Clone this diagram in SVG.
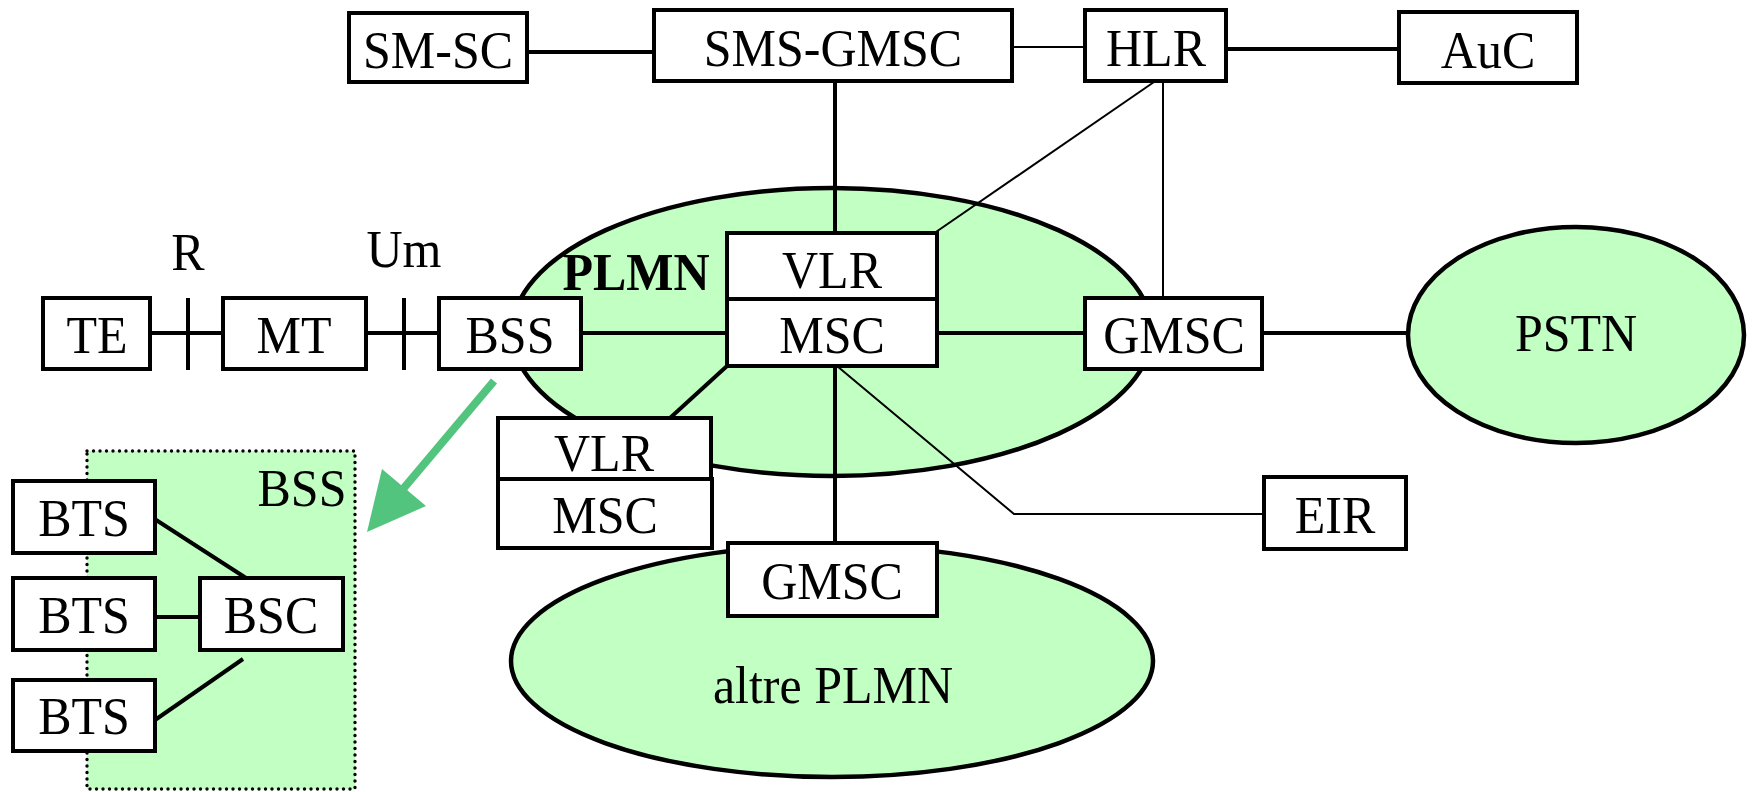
<svg xmlns="http://www.w3.org/2000/svg" width="1754" height="792" viewBox="0 0 1754 792">
<style>
.box{fill:#ffffff;stroke:#000;stroke-width:4}
.cloud{fill:#c2ffc2;stroke:#000;stroke-width:4.5}
.thick{stroke:#000;stroke-width:4;fill:none}
.thin{stroke:#000;stroke-width:2;fill:none}
text{font-family:"Liberation Serif","Times New Roman",serif;font-size:50px;fill:#000;text-anchor:middle}
.bold{font-weight:bold}
</style>
<rect width="1754" height="792" fill="#ffffff"/>
<g id="plmn-cloud"><ellipse class="cloud" cx="832" cy="332" rx="320" ry="144"/><text class="bold" transform="translate(636,290) scale(1,1.04)">PLMN</text></g>
<g id="altre-plmn"><ellipse class="cloud" cx="832" cy="661" rx="321" ry="116"/><text transform="translate(833,703) scale(1,1.06)">altre PLMN</text></g>
<g id="pstn"><ellipse class="cloud" cx="1576" cy="335" rx="168" ry="108"/><text transform="translate(1576,351) scale(1,1.06)">PSTN</text></g>
<g id="bss-detail"><rect x="87" y="451" width="268" height="338" fill="#c2ffc2" stroke="#000" stroke-width="3.4" stroke-dasharray="0 6.5" stroke-linecap="round"/><text transform="translate(302,506) scale(1,1.06)">BSS</text></g>
<g id="connectors">
<line class="thick" x1="527" y1="52" x2="654" y2="52"/>
<line class="thin" x1="1012" y1="47" x2="1085" y2="47"/>
<line class="thick" x1="1226" y1="49" x2="1399" y2="49"/>
<line class="thick" x1="835" y1="81" x2="835" y2="233"/>
<line class="thin" x1="1154" y1="82" x2="933" y2="234"/>
<line class="thin" x1="1163" y1="81" x2="1163" y2="303"/>
<line class="thick" x1="150" y1="333" x2="223" y2="333"/>
<line class="thick" x1="366" y1="333" x2="439" y2="333"/>
<line class="thick" x1="188" y1="298" x2="188" y2="370"/>
<line class="thick" x1="404" y1="298" x2="404" y2="370"/>
<line class="thick" x1="581" y1="333" x2="727" y2="333"/>
<line class="thick" x1="937" y1="333" x2="1085" y2="333"/>
<line class="thick" x1="1262" y1="333" x2="1409" y2="333"/>
<line class="thick" x1="727" y1="366" x2="670" y2="418"/>
<line class="thick" x1="835" y1="366" x2="835" y2="548"/>
<polyline class="thin" points="837,366 1014,514 1264,514"/>
<line class="thick" x1="153" y1="518" x2="246" y2="578"/>
<line class="thick" x1="150" y1="617" x2="200" y2="617"/>
<line class="thick" x1="155" y1="720" x2="243" y2="659"/>
<line stroke="#52c47e" stroke-width="8" x1="494" y1="381" x2="398" y2="495"/>
<polygon fill="#52c47e" points="367,532 382,469 426,506"/>
</g>
<g id="sm-sc"><rect class="box" x="349" y="13" width="178" height="69"/><text transform="translate(438,68) scale(1,1.06)">SM-SC</text></g>
<g id="sms-gmsc"><rect class="box" x="654" y="10" width="358" height="71"/><text transform="translate(833,66) scale(1,1.06)">SMS-GMSC</text></g>
<g id="hlr"><rect class="box" x="1085" y="10" width="141" height="71"/><text transform="translate(1156,66) scale(1,1.06)">HLR</text></g>
<g id="auc"><rect class="box" x="1399" y="12" width="178" height="71"/><text transform="translate(1488,68) scale(1,1.06)">AuC</text></g>
<g id="te"><rect class="box" x="43" y="298" width="107" height="71"/><text transform="translate(97,353) scale(1,1.06)">TE</text></g>
<g id="r-label"><text transform="translate(188,270) scale(1,1.06)">R</text></g>
<g id="um-label"><text transform="translate(404,267) scale(1,1.06)">Um</text></g>
<g id="mt"><rect class="box" x="223" y="298" width="143" height="71"/><text transform="translate(294,353) scale(1,1.06)">MT</text></g>
<g id="bss"><rect class="box" x="439" y="298" width="142" height="71"/><text transform="translate(510,353) scale(1,1.06)">BSS</text></g>
<g id="vlr-up"><rect class="box" x="727" y="233" width="210" height="66"/><text transform="translate(832,288) scale(1,1.06)">VLR</text></g>
<g id="msc-up"><rect class="box" x="727" y="299" width="210" height="67"/><text transform="translate(832,353) scale(1,1.06)">MSC</text></g>
<g id="gmsc-right"><rect class="box" x="1085" y="298" width="177" height="71"/><text transform="translate(1174,353) scale(1,1.06)">GMSC</text></g>
<g id="vlr-low"><rect class="box" x="498" y="418" width="213" height="61"/><text transform="translate(604,471) scale(1,1.06)">VLR</text></g>
<g id="msc-low"><rect class="box" x="498" y="479" width="214" height="69"/><text transform="translate(605,533) scale(1,1.06)">MSC</text></g>
<g id="gmsc-low"><rect class="box" x="728" y="543" width="209" height="73"/><text transform="translate(832,599) scale(1,1.06)">GMSC</text></g>
<g id="eir"><rect class="box" x="1264" y="477" width="142" height="72"/><text transform="translate(1335,533) scale(1,1.06)">EIR</text></g>
<g id="bts1"><rect class="box" x="13" y="481" width="142" height="72"/><text transform="translate(84,536) scale(1,1.06)">BTS</text></g>
<g id="bts2"><rect class="box" x="13" y="578" width="142" height="72"/><text transform="translate(84,633) scale(1,1.06)">BTS</text></g>
<g id="bts3"><rect class="box" x="13" y="680" width="142" height="71"/><text transform="translate(84,734) scale(1,1.06)">BTS</text></g>
<g id="bsc"><rect class="box" x="200" y="578" width="143" height="72"/><text transform="translate(271,633) scale(1,1.06)">BSC</text></g>
</svg>
